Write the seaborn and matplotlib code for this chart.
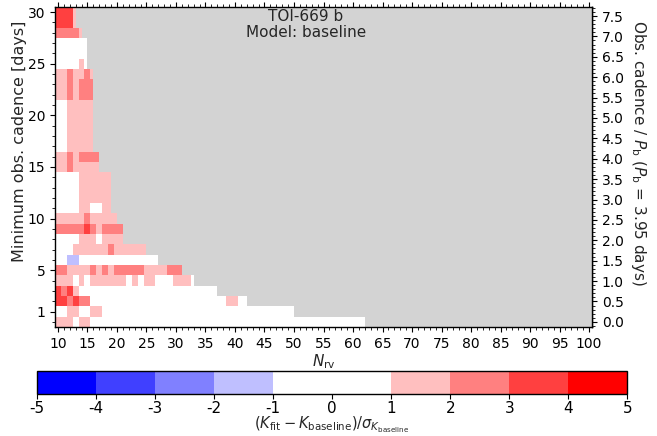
import numpy as np
import pandas as pd
import matplotlib
matplotlib.use("Agg")
import matplotlib.pyplot as plt
from matplotlib.colors import BoundaryNorm
from matplotlib.ticker import FixedLocator, AutoMinorLocator, FormatStrFormatter
import seaborn as sns

# ---------------- data ----------------
n_rv = list(range(10, 101))
cadence_days = list(range(0, 31))
period_b = 3.95
ytick_days = [1, 5, 10, 15, 20, 25, 30]
xtick_nrv = list(range(10, 101, 5))
ratio_ticks = [i * 0.5 for i in range(16)]
cbar_ticks = list(range(-5, 6))
bounds = [-5, -4, -3, -2, -1, 1, 2, 3, 4, 5]

# largest N_rv that still has a result for each cadence (grey beyond it)
n_rv_limit = [62, 50, 42, 37, 33, 31, 27, 25, 21, 21, 20, 19, 19, 19, 19,
              17, 17, 16, 16, 16, 16, 16, 16, 16, 16, 15, 15, 15, 14, 13, 13]

# binned (K_fit - K_baseline)/sigma per cadence row, starting at N_rv = 10
bin_code = {"0": 0.0, "1": 1.5, "2": 2.5, "3": 3.5, "4": 4.5, "b": -1.5}
rows = [
    "111011" + "0" * 47,                                   # 0 d
    "00110011" + "0" * 33,                                 # 1
    "332322" + "0" * 23 + "11" + "00",                     # 2
    "3231" + "0" * 24,                                     # 3
    "111" "0" "1" "0" "111111" "0" "1" "0" "11" "000" "111" "0",  # 4
    "22" "1111" "2" "1" "2" "1" "22222" "1111" "222",      # 5
    "00bb" + "0" * 14,                                     # 6
    "000" "111111" "2" "111111",                           # 7
    "0000" "111" "0" "1111",                               # 8
    "22222" "3" "2" "1" "2222",                            # 9
    "11111211111",                                         # 10
    "0000110011",                                          # 11
    "0000111111",                                          # 12
    "0000111111",                                          # 13
    "0000111111",                                          # 14
    "11211111",                                            # 15
    "11212222",                                            # 16
    "0011111",                                             # 17
    "0011111",                                             # 18
    "0011111",                                             # 19
    "0011111",                                             # 20
    "0011111",                                             # 21
    "1121222",                                             # 22
    "1121222",                                             # 23
    "1121121",                                             # 24
    "000010",                                              # 25
    "000000",                                              # 26
    "000000",                                              # 27
    "22221",                                               # 28
    "3331",                                                # 29
    "3331",                                                # 30
]

values = np.full((len(cadence_days), len(n_rv)), np.nan)
for c, s in enumerate(rows):
    for j, ch in enumerate(s):
        values[c, j] = bin_code[ch]
df = pd.DataFrame(values, index=cadence_days, columns=n_rv)

# ---------------- figure ----------------
sns.set_style("ticks")
plt.rcParams["font.family"] = ["DejaVu Sans"]
plt.rcParams["axes.unicode_minus"] = False

fig = plt.figure(figsize=(6.57, 4.36), dpi=100)
ax = fig.add_axes([0.0837, 0.25, 0.8174, 0.734])
cax = fig.add_axes([0.056, 0.096, 0.899, 0.053])

cmap = plt.get_cmap("bwr", 9)
norm = BoundaryNorm(bounds, cmap.N)

sns.heatmap(df, ax=ax, cbar_ax=cax, cmap=cmap, norm=norm,
            xticklabels=False, yticklabels=False,
            cbar_kws=dict(orientation="horizontal", ticks=cbar_ticks,
                          spacing="proportional"))

x0 = n_rv[0] - 0.5          # data -> heatmap index offset
ax.set_xlim(0, len(n_rv))
ax.set_ylim(0, len(cadence_days))

# grey region: no result available
for c, lim in zip(cadence_days, n_rv_limit):
    ax.barh(c + 0.5, (n_rv[-1] + 0.5) - lim, left=lim - x0, height=1.0,
            color="lightgrey", linewidth=0, zorder=1.5)

for s in ax.spines.values():
    s.set_visible(True)
    s.set_color("black")
    s.set_linewidth(1.0)

ax.xaxis.set_major_locator(FixedLocator([n - x0 for n in xtick_nrv]))
ax.set_xticklabels([str(n) for n in xtick_nrv])
ax.xaxis.set_minor_locator(FixedLocator([n - x0 for n in n_rv]))
ax.yaxis.set_major_locator(FixedLocator([d + 0.5 for d in ytick_days]))
ax.set_yticklabels([str(d) for d in ytick_days])
ax.yaxis.set_minor_locator(FixedLocator([d + 0.5 for d in cadence_days]))
ax.tick_params(which="both", top=True, labeltop=False, right=False,
               direction="out", colors="black", labelsize=10)
ax.tick_params(which="major", length=3.5, width=0.8)
ax.tick_params(which="minor", length=2, width=0.6)

ax.set_xlabel(r"$N_{\rm rv}$", fontsize=11, labelpad=1)
ax.set_ylabel("Minimum obs. cadence [days]", fontsize=11.5)
ax.yaxis.set_label_coords(-0.052, 0.58)

sec = ax.secondary_yaxis("right", functions=(lambda y: (y - 0.5) / period_b,
                                             lambda r: r * period_b + 0.5))
sec.set_yticks(ratio_ticks)
sec.yaxis.set_major_formatter(FormatStrFormatter("%.1f"))
sec.yaxis.set_minor_locator(AutoMinorLocator(5))
sec.tick_params(which="both", direction="out", labelsize=10, colors="black")
sec.tick_params(which="major", length=3.5, width=0.8)
sec.tick_params(which="minor", length=2, width=0.6)
sec.spines["right"].set_linewidth(1.0)
sec.set_ylabel(r"Obs. cadence / $P_{\rm b}$ ($P_{\rm b}$ = 3.95 days)",
               rotation=270, fontsize=11, va="bottom")
sec.yaxis.set_label_coords(1.069, 0.545, transform=ax.transAxes)

ax.text(0.467, 0.995, "TOI-669 b\nModel: baseline", transform=ax.transAxes,
        ha="center", va="top", fontsize=11, linespacing=1.15)

cb = ax.collections[0].colorbar
cb.outline.set_visible(True)
cb.outline.set_linewidth(1.0)
cb.outline.set_edgecolor("black")
cb.ax.tick_params(labelsize=11, direction="out", length=3.5, colors="black",
                  pad=1.5)
cb.set_label(r"$(K_{\rm fit} - K_{\rm baseline})/\sigma_{K_{\rm baseline}}$",
             fontsize=10.5, labelpad=-1)

fig.savefig("out.png", dpi=100)
